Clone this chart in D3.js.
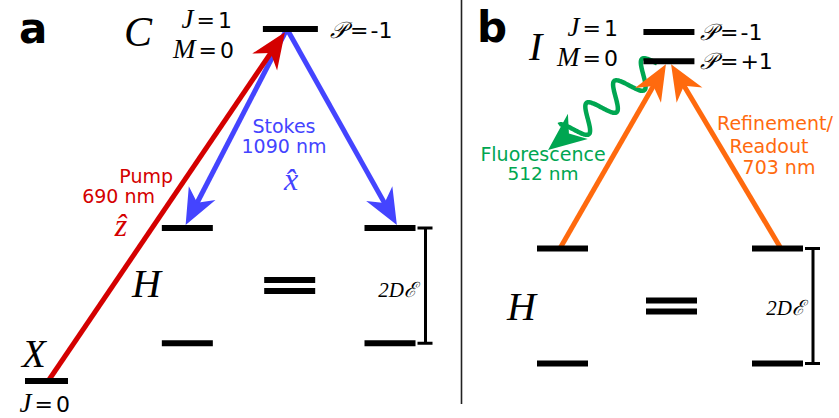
<!DOCTYPE html>
<html>
<head>
<meta charset="utf-8">
<script src="https://cdn.jsdelivr.net/npm/d3@7"></script>
<style>
  body { margin: 0; background: #fff; }
  .sans { font-family: "DejaVu Sans", sans-serif; }
  .math { font-family: "Liberation Serif", serif; font-style: italic; }
</style>
</head>
<body>
<svg width="839" height="418"></svg>
<script>
const svg = d3.select('svg');

// ---- data: energy levels (column position, energy in arbitrary units) ----
const levelsA = [
  { id: 'X',  col: 0,     E: 0 },
  { id: 'Hl', col: 0.41,  E: 1.07 },
  { id: 'Hu', col: 0.41,  E: 4.35 },
  { id: 'C',  col: 0.71,  E: 10 },
  { id: 'Rl', col: 1,     E: 1.07 },
  { id: 'Ru', col: 1,     E: 4.35 }
];
const levelsB = [
  { id: 'Hl', col: 0,     E: 0 },
  { id: 'Hu', col: 0,     E: 3.47 },
  { id: 'Ip', col: 0.495, E: 9.12 },
  { id: 'Im', col: 0.495, E: 10 },
  { id: 'Rl', col: 1,     E: 0 },
  { id: 'Ru', col: 1,     E: 3.47 }
];

// transitions: start / end in the same units
const arrowsA = [
  { name: 'pump',    c0: 0.005, E0: 0,  c1: 0.694, E1: 9.91 },
  { name: 'stokesL', c0: 0.70,  E0: 10, c1: 0.405, E1: 4.43 },
  { name: 'stokesR', c0: 0.70,  E0: 10, c1: 1.02,  E1: 4.43 }
];
const arrowsB = [
  { name: 'readL', c0: -0.012, E0: 3.47, c1: 0.481, E1: 9.03 },
  { name: 'readR', c0: 1.016,  E0: 3.47, c1: 0.505, E1: 9.03 }
];
const fluorB = { c0: 0.44, E0: 9.05, c1: -0.067, E1: 6.44 };

// ---- scales ----
const xA = d3.scaleLinear().domain([0, 1]).range([46.5, 390]);
const yA = d3.scaleLinear().domain([0, 10]).range([381, 29]);
const xB = d3.scaleLinear().domain([0, 1]).range([562.5, 777.5]);
const yB = d3.scaleLinear().domain([0, 10]).range([363.5, 32]);

const red = '#d40000', blue = '#4444ff', green = '#00a651', orange = '#ff6a0e';
const barW = id => id === 'X' ? 43 : id === 'C' ? 55 : 51;

const drawLevels = (levels, x, y) => {
  svg.append('g').selectAll('line').data(levels)
    .enter().append('line')
      .attr('x1', d => x(d.col) - barW(d.id) / 2)
      .attr('x2', d => x(d.col) + barW(d.id) / 2)
      .attr('y1', d => y(d.E))
      .attr('y2', d => y(d.E))
      .attr('stroke', '#000')
      .attr('stroke-width', 6);
};

const equalSign = (col, E1, E2, x, y) => {
  const cy = y((E1 + E2) / 2);
  [-5.5, 5.5].forEach(o => {
    svg.append('line')
      .attr('x1', x(col) - 25.5).attr('x2', x(col) + 25.5)
      .attr('y1', cy + o).attr('y2', cy + o)
      .attr('stroke', '#000').attr('stroke-width', 6);
  });
};

const bracket = (col, E1, E2, x, y) => {
  const right = x(col) + 25.5;
  const yt = y(E2), yb = y(E1);
  svg.append('path')
    .attr('d', `M${right + 2},${yt}H${right + 17}M${right + 10},${yt}V${yb}M${right + 2},${yb}H${right + 17}`)
    .attr('fill', 'none').attr('stroke', '#000').attr('stroke-width', 3);
};

const arrowHead = (tip, ux, uy, color, L = 36, W = 15) => {
  const nx = -uy, ny = ux;
  const bx = tip[0] - ux * L, by = tip[1] - uy * L;
  const mx = tip[0] - ux * L * 0.7, my = tip[1] - uy * L * 0.7;
  svg.append('path')
    .attr('d', `M${tip[0]},${tip[1]}L${bx + nx * W},${by + ny * W}L${mx},${my}L${bx - nx * W},${by - ny * W}Z`)
    .attr('fill', color);
};

const drawArrow = (a, x, y, color) => {
  const p0 = [x(a.c0), y(a.E0)], p1 = [x(a.c1), y(a.E1)];
  const len = Math.hypot(p1[0] - p0[0], p1[1] - p0[1]);
  const ux = (p1[0] - p0[0]) / len, uy = (p1[1] - p0[1]) / len;
  svg.append('line')
    .attr('x1', p0[0]).attr('y1', p0[1])
    .attr('x2', p1[0] - ux * 22).attr('y2', p1[1] - uy * 22)
    .attr('stroke', color).attr('stroke-width', 5);
  arrowHead(p1, ux, uy, color);
};

const drawWave = (a, x, y, color) => {
  const p0 = [x(a.c0), y(a.E0)], p1 = [x(a.c1), y(a.E1)];
  const len = Math.hypot(p1[0] - p0[0], p1[1] - p0[1]);
  const ux = (p1[0] - p0[0]) / len, uy = (p1[1] - p0[1]) / len;
  const nx = -uy, ny = ux;
  const L = len - 24;
  const periods = 3.25, amp = 13;
  const pts = d3.range(0, 201).map(i => {
    const t = i / 200 * L;
    const s = amp * Math.sin(2 * Math.PI * periods * t / L);
    return [p0[0] + ux * t + nx * s, p0[1] + uy * t + ny * s];
  });
  svg.append('path')
    .attr('d', d3.line().curve(d3.curveCatmullRom)(pts))
    .attr('fill', 'none').attr('stroke', color).attr('stroke-width', 4.5);
  arrowHead(p1, ux, uy, color, 38, 16);
};

const label = (txt, px, py, cls, size, color = '#000', anchor = 'start', weight = 'normal') =>
  svg.append('text')
    .attr('class', cls)
    .attr('x', px).attr('y', py)
    .attr('font-size', size)
    .attr('font-weight', weight)
    .attr('text-anchor', anchor)
    .attr('fill', color)
    .text(txt);

// quantum number label: italic letter + "=value"
const qn = (letter, val, px, py) => {
  const t = svg.append('text').attr('x', px).attr('y', py)
    .attr('text-anchor', 'end').attr('font-size', 22);
  t.append('tspan').attr('class', 'math').attr('font-size', 27).text(letter);
  t.append('tspan').attr('class', 'sans').attr('dx', 3).text('=');
  t.append('tspan').attr('class', 'sans').attr('dx', 3).text(val);
};
const parity = (val, px, py) => {
  const t = svg.append('text').attr('x', px).attr('y', py).attr('font-size', 22);
  t.append('tspan').attr('class', 'math').attr('font-size', 23).text('\u{1D4AB}');
  t.append('tspan').attr('class', 'sans').attr('dx', 3).text('=');
  t.append('tspan').attr('class', 'sans').attr('dx', 2).text(val);
};

// ---- panel a ----
arrowsA.slice(1).forEach(a => drawArrow(a, xA, yA, blue));
drawArrow(arrowsA[0], xA, yA, red);
drawLevels(levelsA, xA, yA);
equalSign(0.708, 1.07, 4.35, xA, yA);
bracket(1, 1.07, 4.35, xA, yA);

label('a', 19, 43, 'sans', 42, '#000', 'start', 'bold');
label('C', 124, 46, 'math', 42);
qn('J', '1', 232, 28);
qn('M', '0', 234, 58);
parity('-1', 330, 38);
label('Stokes', 284, 133, 'sans', 19, blue, 'middle');
label('1090 nm', 284, 153, 'sans', 19, blue, 'middle');
label('x\u0302', 291, 190, 'math', 32, blue, 'middle');
label('Pump', 173, 183, 'sans', 19, red, 'end');
label('690 nm', 155, 203, 'sans', 19, red, 'end');
label('z\u0302', 121, 236, 'math', 32, red, 'middle');
label('H', 132, 297, 'math', 40);
label('X', 22, 367, 'math', 39);
qn('J', '0', 70, 412);
label('2D\u2130', 417, 297, 'math', 21, '#000', 'end');

// divider
svg.append('line')
  .attr('x1', 461.5).attr('x2', 461.5).attr('y1', 0).attr('y2', 404)
  .attr('stroke', '#222').attr('stroke-width', 1.6);

// ---- panel b ----
drawWave(fluorB, xB, yB, green);
arrowsB.forEach(a => drawArrow(a, xB, yB, orange));
drawLevels(levelsB, xB, yB);
equalSign(0.507, 0, 3.47, xB, yB);
bracket(1, 0, 3.47, xB, yB);

label('b', 477, 42, 'sans', 42, '#000', 'start', 'bold');
label('I', 529, 60, 'math', 40);
qn('J', '1', 618, 36);
qn('M', '0', 618, 66);
parity('-1', 700, 40);
parity('+1', 700, 69);
label('Fluorescence', 543, 161, 'sans', 19, green, 'middle');
label('512 nm', 543, 180, 'sans', 18.5, green, 'middle');
label('Refinement/', 775, 130, 'sans', 19, orange, 'middle');
label('Readout', 769, 153, 'sans', 19, orange, 'middle');
label('703 nm', 779, 174, 'sans', 19, orange, 'middle');
label('H', 507, 320, 'math', 40);
label('2D\u2130', 805, 315, 'math', 21, '#000', 'end');
</script>
</body>
</html>
